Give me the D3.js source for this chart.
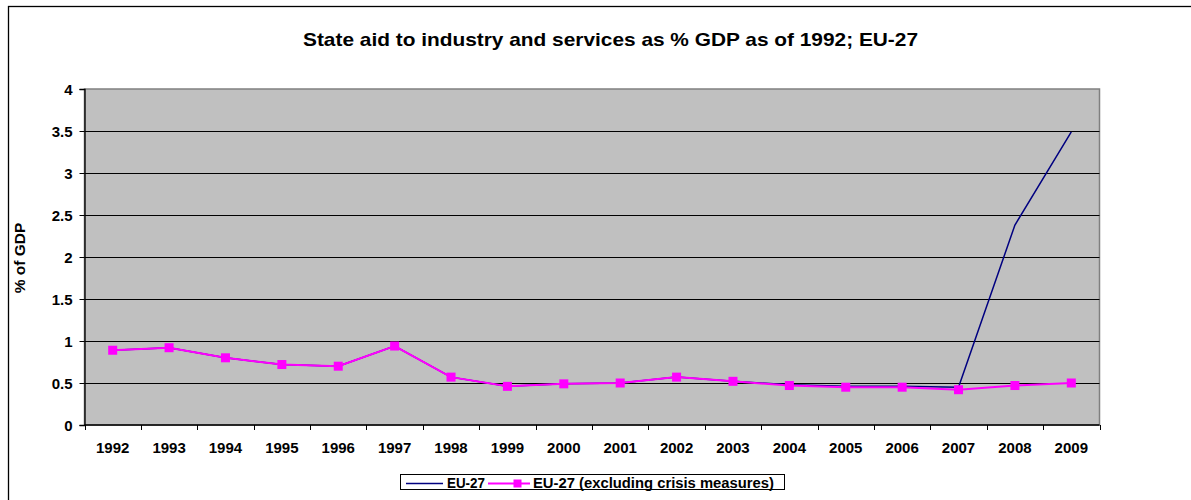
<!DOCTYPE html>
<html>
<head>
<meta charset="utf-8">
<script src="https://cdn.jsdelivr.net/npm/d3@7"></script>
<style>
  html, body { margin: 0; padding: 0; background: #fff; }
  svg { display: block; font-family: "Liberation Sans", Arial, sans-serif; }
</style>
</head>
<body>
<svg id="chart" width="1191" height="500"></svg>
<script>
const years = ["1992","1993","1994","1995","1996","1997","1998","1999","2000","2001","2002","2003","2004","2005","2006","2007","2008","2009"];
const eu27 = [0.89,0.92,0.80,0.72,0.70,0.94,0.57,0.46,0.49,0.50,0.57,0.52,0.48,0.46,0.46,0.45,2.38,3.49];
const eu27ExCrisis = [0.89,0.92,0.80,0.72,0.70,0.94,0.57,0.46,0.49,0.50,0.57,0.52,0.47,0.45,0.45,0.42,0.47,0.50];
const yTicks = [0,0.5,1,1.5,2,2.5,3,3.5,4];
const yTickLabels = ["0","0.5","1","1.5","2","2.5","3","3.5","4"];
const seriesNames = ["EU-27","EU-27 (excluding crisis measures)"];
const titleText = "State aid to industry and services as % GDP as of 1992; EU-27";
const yAxisTitle = "% of GDP";

const svg = d3.select("#chart");
const W = 1191, H = 500;
const plot = {left: 84.5, right: 1099.5, top: 89, bottom: 425};

// outer frame (extends beyond right/bottom)
svg.append("rect").attr("x", 8.5).attr("y", 6.5).attr("width", W + 10).attr("height", H + 10)
  .attr("fill", "#fff").attr("stroke", "#000").attr("stroke-width", 1.3);

const x = d3.scaleBand().domain(years).range([plot.left, plot.right]).padding(0);
const y = d3.scaleLinear().domain([0, 4]).range([plot.bottom, plot.top]);

// plot background
svg.append("rect").attr("x", plot.left).attr("y", plot.top)
  .attr("width", plot.right - plot.left).attr("height", plot.bottom - plot.top)
  .attr("fill", "#c0c0c0").attr("stroke", "#808080").attr("stroke-width", 1.5);

// gridlines
svg.append("g").selectAll("line").data(yTicks.filter(d => d > 0 && d < 4)).join("line")
  .attr("x1", plot.left).attr("x2", plot.right)
  .attr("y1", d => Math.round(y(d)) + 0.5).attr("y2", d => Math.round(y(d)) + 0.5)
  .attr("stroke", "#000").attr("stroke-width", 1);

// y axis
const yAxis = d3.axisLeft(y).tickValues(yTicks).tickSize(5).tickPadding(7)
  .tickFormat((d, i) => yTickLabels[i]);
const gy = svg.append("g").attr("transform", `translate(${plot.left},0)`).call(yAxis);
gy.select(".domain").attr("stroke", "#000").attr("stroke-width", 1.3);
gy.selectAll(".tick line").attr("stroke", "#000");
gy.selectAll(".tick text").attr("font-size", 15).attr("font-weight", "bold").attr("fill", "#000")
  .attr("font-family", "Liberation Sans, Arial, sans-serif").attr("dy", "0.36em");

// x axis with ticks at band boundaries
const gx = svg.append("g").attr("transform", `translate(0,${plot.bottom})`);
gx.append("line").attr("x1", plot.left).attr("x2", plot.right).attr("y1", 0).attr("y2", 0)
  .attr("stroke", "#000").attr("stroke-width", 1.3);
const bounds = years.map(d => x(d)).concat([x(years[years.length - 1]) + x.bandwidth()]);
gx.selectAll("line.tk").data(bounds).join("line").attr("class", "tk")
  .attr("x1", d => Math.round(d) + 0.5).attr("x2", d => Math.round(d) + 0.5)
  .attr("y1", 0).attr("y2", 5).attr("stroke", "#000");
gx.selectAll("text").data(years).join("text")
  .attr("x", d => x(d) + x.bandwidth() / 2).attr("y", 28)
  .attr("text-anchor", "middle").attr("font-size", 15).attr("font-weight", "bold")
  .text(d => d);

// lines
const line = d3.line().x((d, i) => x(years[i]) + x.bandwidth() / 2).y(d => y(d));
svg.append("path").datum(eu27).attr("d", line).attr("fill", "none")
  .attr("stroke", "#000080").attr("stroke-width", 1.5);
svg.append("path").datum(eu27ExCrisis).attr("d", line).attr("fill", "none")
  .attr("stroke", "#ff00ff").attr("stroke-width", 2);
svg.append("g").selectAll("rect").data(eu27ExCrisis).join("rect")
  .attr("x", (d, i) => x(years[i]) + x.bandwidth() / 2 - 4.5)
  .attr("y", d => y(d) - 4.5).attr("width", 9).attr("height", 9)
  .attr("fill", "#ff00ff");

// title
svg.append("text").attr("x", 303).attr("y", 46)
  .attr("font-size", 19).attr("font-weight", "bold")
  .attr("textLength", 615).attr("lengthAdjust", "spacingAndGlyphs").text(titleText);

// y axis title
svg.append("text").attr("transform", "translate(25,258) rotate(-90)")
  .attr("text-anchor", "middle").attr("font-size", 15.5).attr("font-weight", "bold").text(yAxisTitle);

// legend
const lg = svg.append("g");
lg.append("rect").attr("x", 400.5).attr("y", 474.5).attr("width", 384).attr("height", 15)
  .attr("fill", "#fff").attr("stroke", "#000").attr("stroke-width", 1);
lg.append("line").attr("x1", 406).attr("x2", 443).attr("y1", 483.5).attr("y2", 483.5)
  .attr("stroke", "#000080").attr("stroke-width", 1.5);
lg.append("text").attr("x", 447).attr("y", 488).attr("font-size", 14).attr("font-weight", "bold")
  .attr("textLength", 38).attr("lengthAdjust", "spacingAndGlyphs").text(seriesNames[0]);
lg.append("line").attr("x1", 488).attr("x2", 530).attr("y1", 483.5).attr("y2", 483.5)
  .attr("stroke", "#ff00ff").attr("stroke-width", 2);
lg.append("rect").attr("x", 513.5).attr("y", 479.5).attr("width", 8).attr("height", 8).attr("fill", "#ff00ff");
lg.append("text").attr("x", 533).attr("y", 488).attr("font-size", 14).attr("font-weight", "bold")
  .attr("textLength", 241).attr("lengthAdjust", "spacingAndGlyphs").text(seriesNames[1]);
</script>
</body>
</html>
